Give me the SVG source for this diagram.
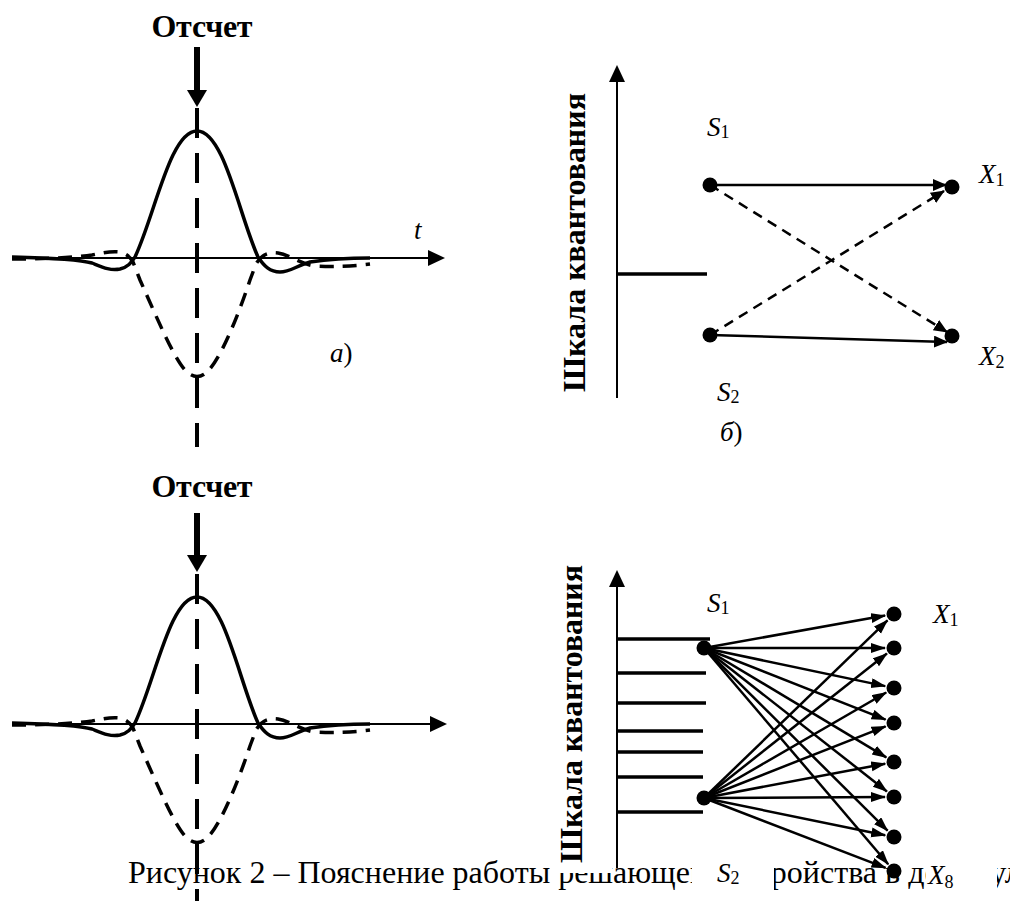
<svg xmlns="http://www.w3.org/2000/svg" width="1010" height="901" viewBox="0 0 1010 901">
<style>
.thin{stroke:#000;stroke-width:2;fill:none}
.curve{stroke:#000;stroke-width:3.5;fill:none}
.dcurve{stroke:#000;stroke-width:3.5;fill:none;stroke-dasharray:14 9}
.vdash{stroke:#000;stroke-width:4;fill:none;stroke-dasharray:30 15}
.tick{stroke:#000;stroke-width:3.5}
.edge{stroke:#000;stroke-width:2.5;fill:none}
.edash{stroke-dasharray:10 7}
.lbl{font-family:"Liberation Serif","Times New Roman",serif;font-style:italic;font-size:27px}
.sub{font-style:normal;font-size:18px}
.bold{font-family:"Liberation Serif","Times New Roman",serif;font-weight:bold}
.cap{font-family:"Liberation Serif","Times New Roman",serif;font-size:32px}
</style>
<defs>
<marker id="ah" markerUnits="userSpaceOnUse" markerWidth="16" markerHeight="14" refX="13" refY="6" orient="auto"><path d="M0,0 L14,6 L0,12 z" fill="#000"/></marker>
<marker id="ahs" markerUnits="userSpaceOnUse" markerWidth="16" markerHeight="12" refX="14" refY="5" orient="auto"><path d="M0,0 L15,5 L0,10 z" fill="#000"/></marker>
<path id="pulse" d="M12,257 C50,258 78,259 92,263 C102,267 110,271 120,269 C128,267 131,263 135,257 C155,215 170,131 197,131 C224,131 239,215 258,257 C264,266 270,272 280,272 C290,272 296,266 310,262 C330,259 350,258 370,258"/>
<path id="dpulse" d="M12,259 C50,259 78,257 92,255 C102,253 110,251 120,252 C127,254 130,257 133,262 L140,280 C160,325 175,360 186,371 Q197,382 208,371 C219,360 235,325 250,280 L256,264 C262,254 268,252 278,253 C290,255 300,264 315,266 C335,267 355,266 370,264"/>
</defs>
<rect width="1010" height="901" fill="#fff"/>

<g id="caption">
<text class="cap" x="128" y="883">Рисунок 2 – Пояснение работы решающего устройства в демодуляторе</text>
</g>

<g id="fig-a">
<text class="bold" x="202" y="37" font-size="32" text-anchor="middle" textLength="101">Отсчет</text>
<line x1="197" y1="47" x2="197" y2="92" stroke="#000" stroke-width="6"/>
<polygon points="187,90 207,90 197,107" fill="#000"/>
<line class="vdash" x1="197" y1="108" x2="197" y2="447"/>
<line class="thin" x1="12" y1="258" x2="430" y2="258"/>
<polygon points="428,250 445,258 428,266" fill="#000"/>
<use href="#pulse" class="curve"/>
<use href="#dpulse" class="dcurve"/>
<text class="lbl" x="414" y="239" font-size="28">t</text>
<text class="lbl" x="330" y="362" font-size="28">а<tspan font-style="normal">)</tspan></text>
</g>

<g id="fig-c">
<text class="bold" x="202" y="497" font-size="32" text-anchor="middle" textLength="101">Отсчет</text>
<line x1="197" y1="513" x2="197" y2="557" stroke="#000" stroke-width="6"/>
<polygon points="187,555 207,555 197,572" fill="#000"/>
<line class="vdash" x1="197" y1="574" x2="197" y2="901"/>
<line class="thin" x1="12" y1="724" x2="432" y2="724"/>
<polygon points="430,716 447,724 430,732" fill="#000"/>
<g transform="translate(0,466)">
<use href="#pulse" class="curve"/>
<use href="#dpulse" class="dcurve"/>
</g>
</g>

<g id="fig-b">
<g id="scale-b">
<line class="thin" x1="617" y1="398" x2="617" y2="80"/>
<polygon points="609,82 617,65 625,82" fill="#000"/>
<line class="tick" x1="617" y1="274" x2="707" y2="274"/>
<text class="bold" font-size="32" transform="translate(585,392) rotate(-90)" textLength="299">Шкала квантования</text>
</g>
<g id="conn-b">
<line class="edge" x1="710" y1="185" x2="946" y2="185" marker-end="url(#ah)"/>
<line class="edge" x1="710" y1="335" x2="947" y2="342" marker-end="url(#ah)"/>
<line class="edge edash" x1="710" y1="185" x2="947" y2="332" marker-end="url(#ah)"/>
<line class="edge edash" x1="710" y1="335" x2="944" y2="191" marker-end="url(#ah)"/>
</g>
<g id="b-S1"><circle cx="710" cy="185" r="7.5"/><text class="lbl" x="707" y="136">S<tspan class="sub" dy="2">1</tspan></text></g>
<g id="b-S2"><circle cx="710" cy="335" r="7.5"/><text class="lbl" x="717" y="401">S<tspan class="sub" dy="2">2</tspan></text></g>
<g id="b-X1"><circle cx="952" cy="187" r="7.5"/><text class="lbl" x="979" y="183" font-size="26">X<tspan class="sub" dy="3">1</tspan></text></g>
<g id="b-X2"><circle cx="952" cy="336" r="7.5"/><text class="lbl" x="979" y="365" font-size="26">X<tspan class="sub" dy="3">2</tspan></text></g>
<text class="lbl" x="720" y="441" font-size="26">б<tspan font-style="normal">)</tspan></text>
</g>

<g id="fig-d">
<g id="scale-d">
<rect x="550" y="560" width="62" height="313" fill="#fff"/>
<line class="thin" x1="617" y1="868" x2="617" y2="585"/>
<polygon points="609,587 617,570 625,587" fill="#000"/>
<line class="tick" x1="617" y1="639" x2="710" y2="639"/>
<line class="tick" x1="617" y1="673" x2="706" y2="673"/>
<line class="tick" x1="617" y1="703" x2="706" y2="703"/>
<line class="tick" x1="617" y1="731" x2="703" y2="731"/>
<line class="tick" x1="617" y1="752" x2="703" y2="752"/>
<line class="tick" x1="617" y1="777" x2="703" y2="777"/>
<line class="tick" x1="617" y1="812" x2="703" y2="812"/>
<text class="bold" font-size="32" transform="translate(582,863) rotate(-90)" textLength="298">Шкала квантования</text>
</g>
<g id="conn-d">
<line class="edge" x1="704" y1="648" x2="885.1" y2="615.6" marker-end="url(#ahs)"/>
<line class="edge" x1="704" y1="648" x2="885" y2="648" marker-end="url(#ahs)"/>
<line class="edge" x1="704" y1="648" x2="885.2" y2="686.1" marker-end="url(#ahs)"/>
<line class="edge" x1="704" y1="648" x2="885.6" y2="719.7" marker-end="url(#ahs)"/>
<line class="edge" x1="704" y1="648" x2="886.3" y2="757.4" marker-end="url(#ahs)"/>
<line class="edge" x1="704" y1="648" x2="886.9" y2="791.4" marker-end="url(#ahs)"/>
<line class="edge" x1="704" y1="648" x2="887.6" y2="830.7" marker-end="url(#ahs)"/>
<line class="edge" x1="704" y1="648" x2="888.2" y2="864.2" marker-end="url(#ahs)"/>
<line class="edge" x1="704" y1="798" x2="887.5" y2="620.3" marker-end="url(#ahs)"/>
<line class="edge" x1="704" y1="798" x2="886.9" y2="653.6" marker-end="url(#ahs)"/>
<line class="edge" x1="704" y1="798" x2="886.2" y2="692.5" marker-end="url(#ahs)"/>
<line class="edge" x1="704" y1="798" x2="885.6" y2="726.3" marker-end="url(#ahs)"/>
<line class="edge" x1="704" y1="798" x2="885.2" y2="763.7" marker-end="url(#ahs)"/>
<line class="edge" x1="704" y1="798" x2="885" y2="797" marker-end="url(#ahs)"/>
<line class="edge" x1="704" y1="798" x2="885.2" y2="835.2" marker-end="url(#ahs)"/>
<line class="edge" x1="704" y1="798" x2="885.6" y2="867.8" marker-end="url(#ahs)"/>
</g>
<g id="d-S1"><circle cx="704" cy="648" r="7.5"/><text class="lbl" x="707" y="612">S<tspan class="sub" dy="2">1</tspan></text></g>
<g id="d-S2"><rect x="692" y="852" width="82" height="45" fill="#fff"/><circle cx="704" cy="798" r="7.5"/><text class="lbl" x="717" y="882">S<tspan class="sub" dy="2">2</tspan></text></g>
<g id="d-X1"><circle cx="894" cy="614" r="7.5"/><text class="lbl" x="933" y="623" font-size="26">X<tspan class="sub" dy="3">1</tspan></text></g>
<g id="d-X2"><circle cx="894" cy="648" r="7.5"/></g>
<g id="d-X3"><circle cx="894" cy="688" r="7.5"/></g>
<g id="d-X4"><circle cx="894" cy="723" r="7.5"/></g>
<g id="d-X5"><circle cx="894" cy="762" r="7.5"/></g>
<g id="d-X6"><circle cx="894" cy="797" r="7.5"/></g>
<g id="d-X7"><circle cx="894" cy="837" r="7.5"/></g>
<g id="d-X8"><rect x="926" y="850" width="71" height="51" fill="#fff"/><circle cx="894" cy="871" r="7.5"/><text class="lbl" x="928" y="884" font-size="26">X<tspan class="sub" dy="4">8</tspan></text></g>
</g>
</svg>
